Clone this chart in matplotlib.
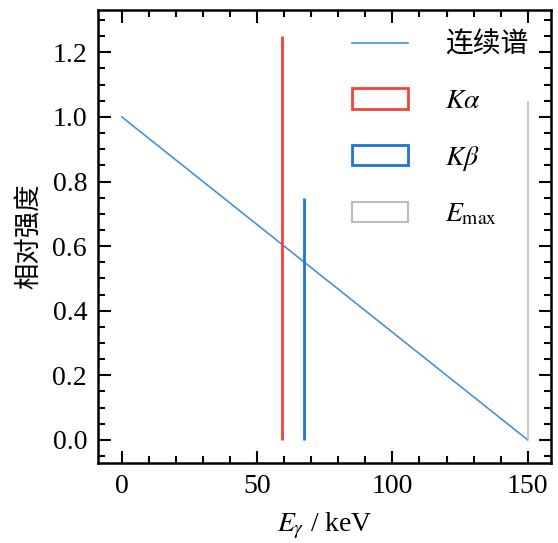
import matplotlib as mpl
mpl.use('Agg')
import matplotlib.pyplot as plt
from matplotlib.patches import Patch
from matplotlib.lines import Line2D
from matplotlib.ticker import MultipleLocator

mpl.rcParams['font.family'] = ['Liberation Serif', 'Noto Sans CJK SC']
mpl.rcParams['mathtext.fontset'] = 'stix'
mpl.rcParams['font.size'] = 20

#=============
# Data
#=============
cont_E = [0, 150]          # keV
cont_I = [1.0, 0.0]
E_ka, I_ka = 59.3, 1.25
E_kb, I_kb = 67.2, 0.75
E_max, I_max = 150, 1.05

c_cont = '#4a90d9'
c_ka = '#f44336'
c_kb = '#1976d2'
c_max = '#bdbdbd'

fig = plt.figure(figsize=(5.58, 5.43), dpi=100)
ax = fig.add_axes([0.176, 0.147, 0.811, 0.834])

ax.plot(cont_E, cont_I, color=c_cont, lw=1.2)
ax.vlines(E_ka, 0, I_ka, color=c_ka, lw=2)
ax.vlines(E_kb, 0, I_kb, color=c_kb, lw=2)
ax.vlines(E_max, 0, I_max, color=c_max, lw=1.2)

ax.set_xlim(-8.7, 158.5)
ax.set_ylim(-0.072, 1.33)
ax.xaxis.set_major_locator(MultipleLocator(50))
ax.xaxis.set_minor_locator(MultipleLocator(10))
ax.yaxis.set_major_locator(MultipleLocator(0.2))
ax.yaxis.set_minor_locator(MultipleLocator(0.05))
ax.yaxis.set_major_formatter(mpl.ticker.FormatStrFormatter('%.1f'))

ax.tick_params(which='both', direction='in', top=True, right=True, width=1.5)
ax.tick_params(which='major', length=9, labelsize=20, pad=8)
ax.tick_params(which='minor', length=5)
for sp in ax.spines.values():
    sp.set_linewidth(1.8)

ax.set_xlabel(r'$E_\gamma$ / keV', fontsize=20, labelpad=8)
ax.set_ylabel('相对强度', fontsize=19, labelpad=8)

handles = [Line2D([], [], color=c_cont, lw=1.2),
           Patch(facecolor='none', edgecolor=c_ka, lw=2),
           Patch(facecolor='none', edgecolor=c_kb, lw=2),
           Patch(facecolor='none', edgecolor=c_max, lw=1.5)]
labels = ['连续谱', r'$K\alpha$', r'$K\beta$', r'$E_\mathrm{max}$']
ax.legend(handles, labels, loc='upper right', frameon=False, fontsize=20,
          handlelength=2.0, handleheight=0.75, handletextpad=1.35,
          labelspacing=1.06, borderaxespad=0.4)

fig.savefig('out.png', dpi=100)
